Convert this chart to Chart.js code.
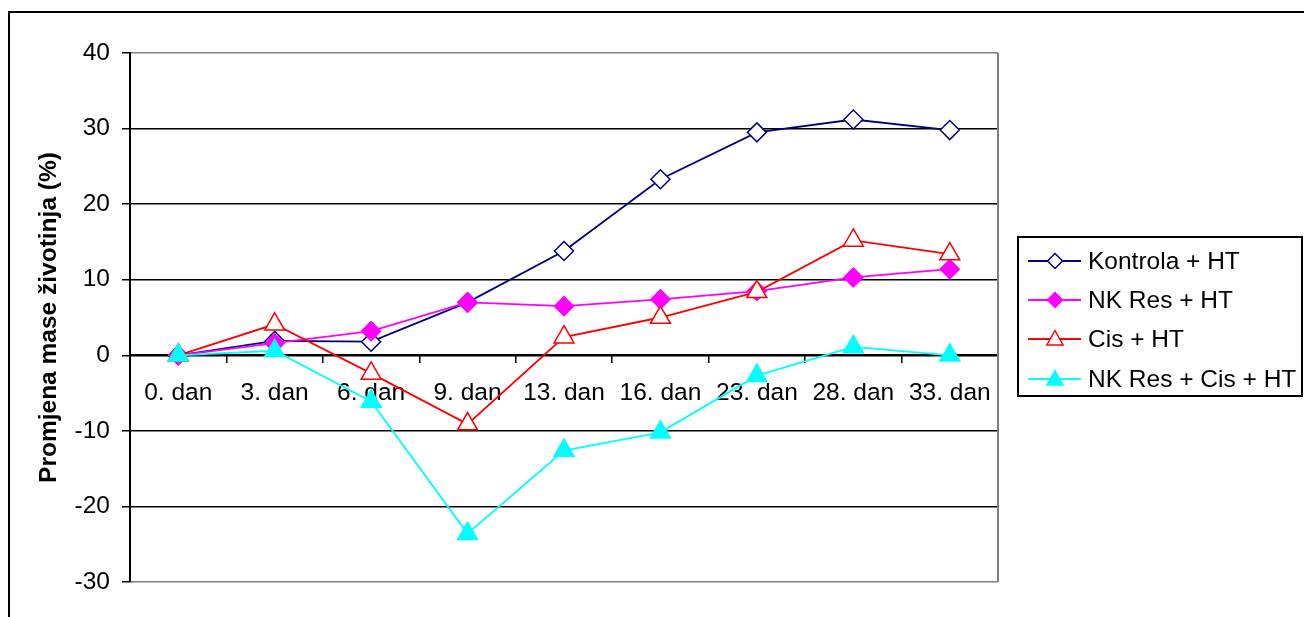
<!DOCTYPE html>
<html>
<head>
<meta charset="utf-8">
<script src="https://cdn.jsdelivr.net/npm/chart.js@4/dist/chart.umd.min.js"></script>
<style>
  html, body { margin: 0; padding: 0; background: #fff; }
  #wrap { width: 1304px; height: 617px; position: relative; }
</style>
</head>
<body>
<div id="wrap"><canvas id="chart"></canvas></div>
<script>
// Data
const days = ['0. dan', '3. dan', '6. dan', '9. dan', '13. dan', '16. dan', '23. dan', '28. dan', '33. dan'];
const kontrola = [0, 1.9, 1.8, 7.0, 13.8, 23.3, 29.5, 31.2, 29.8];
const nkRes = [0, 1.6, 3.2, 7.0, 6.5, 7.4, 8.5, 10.3, 11.4];
const cis = [0, 4.1, -2.4, -9.1, 2.4, 5.0, 8.4, 15.2, 13.4];
const nkResCis = [0, 0.6, -6.1, -23.6, -12.6, -10.2, -2.7, 1.1, 0];
const seriesNames = ['Kontrola + HT', 'NK Res + HT', 'Cis + HT', 'NK Res + Cis + HT'];

const FONT = "'Liberation Sans', Arial, sans-serif";
const FSIZE = 24.5;

// Outer frame + plot border (gray right edge)
const framePlugin = {
  id: 'frame',
  beforeDraw(chart) {
    const ctx = chart.ctx;
    ctx.save();
    ctx.fillStyle = '#fff';
    ctx.fillRect(0, 0, chart.width, chart.height);
    ctx.restore();
  },
  afterDraw(chart) {
    const { ctx, chartArea } = chart;
    ctx.save();
    ctx.strokeStyle = '#808080';
    ctx.lineWidth = 2;
    ctx.beginPath();
    ctx.moveTo(chartArea.right, chartArea.top);
    ctx.lineTo(chartArea.right, chartArea.bottom);
    ctx.stroke();
    ctx.strokeStyle = '#000';
    ctx.lineWidth = 2;
    ctx.strokeRect(9, 12, 1400, 700);
    ctx.restore();
  }
};

// Excel-like legend box with line + marker samples
function drawMarker(ctx, style, x, y, r, fill, stroke) {
  ctx.beginPath();
  if (style === 'rectRot') {
    ctx.moveTo(x, y - r);
    ctx.lineTo(x + r, y);
    ctx.lineTo(x, y + r);
    ctx.lineTo(x - r, y);
  } else {
    ctx.moveTo(x, y - r);
    ctx.lineTo(x + r * 0.95, y + r * 0.7);
    ctx.lineTo(x - r * 0.95, y + r * 0.7);
  }
  ctx.closePath();
  ctx.fillStyle = fill;
  ctx.fill();
  ctx.strokeStyle = stroke;
  ctx.lineWidth = 1.5;
  ctx.stroke();
}

const legendPlugin = {
  id: 'excelLegend',
  afterDraw(chart) {
    const ctx = chart.ctx;
    ctx.save();
    ctx.strokeStyle = '#000';
    ctx.lineWidth = 2;
    ctx.strokeRect(1018, 237, 284, 159);
    const rows = [261, 300, 339, 379];
    chart.data.datasets.forEach((ds, i) => {
      const y = rows[i];
      ctx.strokeStyle = ds.borderColor;
      ctx.lineWidth = 2;
      ctx.beginPath();
      ctx.moveTo(1028, y);
      ctx.lineTo(1081, y);
      ctx.stroke();
      const r = ds.pointStyle === 'rectRot' ? 7.5 : 8.5;
      drawMarker(ctx, ds.pointStyle, 1055, y, r, ds.pointBackgroundColor, ds.pointBorderColor);
      ctx.fillStyle = '#000';
      ctx.font = FSIZE + 'px ' + FONT;
      ctx.textBaseline = 'middle';
      ctx.textAlign = 'left';
      ctx.fillText(ds.label, 1088, y + 1);
    });
    ctx.restore();
  }
};

function makeSet(label, data, color, style, filled, order) {
  return {
    label: label,
    data: data,
    borderColor: color,
    borderWidth: 1.8,
    backgroundColor: color,
    pointStyle: style,
    pointRadius: style === 'rectRot' ? 9.5 : 11.5,
    pointBorderWidth: 1.5,
    pointBackgroundColor: filled ? color : '#fff',
    pointBorderColor: color,
    tension: 0,
    fill: false,
    order: order
  };
}

new Chart(document.getElementById('chart'), {
  type: 'line',
  data: {
    labels: days,
    datasets: [
      makeSet(seriesNames[0], kontrola, '#000080', 'rectRot', false, 4),
      makeSet(seriesNames[1], nkRes, '#FF00FF', 'rectRot', true, 3),
      makeSet(seriesNames[2], cis, '#FF0000', 'triangle', false, 2),
      makeSet(seriesNames[3], nkResCis, '#00FFFF', 'triangle', true, 1)
    ]
  },
  options: {
    responsive: true,
    maintainAspectRatio: false,
    animation: false,
    layout: { padding: { left: 0, top: 53, right: 306, bottom: 35 } },
    plugins: {
      legend: { display: false },
      tooltip: { enabled: false }
    },
    scales: {
      x: {
        position: { y: 0 },
        offset: true,
        grid: {
          offset: true,
          drawOnChartArea: false,
          drawTicks: true,
          tickLength: 7,
          color: '#000',
          lineWidth: 1.5
        },
        border: { color: '#000', width: 2 },
        ticks: {
          color: '#000',
          font: { family: FONT, size: FSIZE },
          padding: 16,
          maxRotation: 0,
          autoSkip: false
        }
      },
      y: {
        min: -30,
        max: 40,
        afterFit(scale) { scale.width = 130; },
        grid: {
          color: (c) => (c.tick && (c.tick.value === 40 || c.tick.value === -30)) ? '#808080' : '#000',
          lineWidth: 1.5,
          tickLength: 8,
          tickColor: '#000'
        },
        border: { color: '#000', width: 2 },
        ticks: {
          stepSize: 10,
          color: '#000',
          font: { family: FONT, size: FSIZE },
          padding: 12
        },
        title: {
          display: true,
          text: 'Promjena mase životinja (%)',
          color: '#000',
          font: { family: FONT, size: FSIZE, weight: 'bold' },
          padding: { top: 35, bottom: 0 }
        }
      }
    }
  },
  plugins: [framePlugin, legendPlugin]
});
</script>
</body>
</html>
